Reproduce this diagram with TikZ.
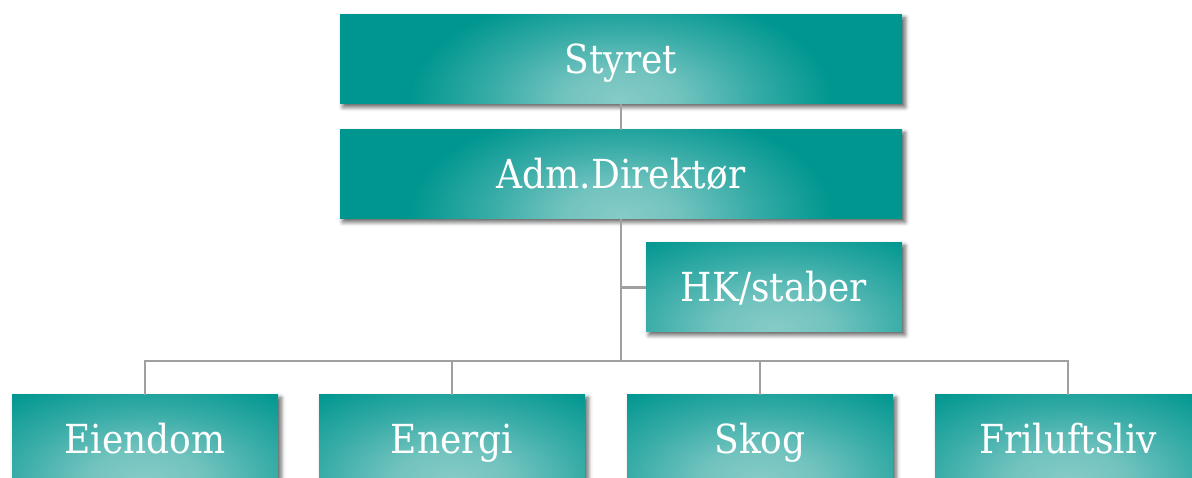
\documentclass[tikz,border=0pt]{standalone}
\usepackage{fontspec}
\setmainfont{DejaVu Serif Condensed}
\usetikzlibrary{shadows.blur}
\definecolor{tealdark}{RGB}{0,150,144}
\definecolor{teallight}{RGB}{134,203,199}
\definecolor{linegray}{RGB}{160,160,160}
\pgfdeclareradialshading{glow}{\pgfpointorigin}{color(0bp)=(teallight); color(3bp)=(teallight!85!tealdark); color(7bp)=(teallight!40!tealdark); color(11bp)=(tealdark); color(50bp)=(tealdark)}

\begin{document}
\begin{tikzpicture}[x=1pt,y=1pt,
    unit/.style={minimum height=89pt, inner sep=0pt, text=white,
      font=\fontsize{40}{40}\selectfont, text height=29pt, text depth=0pt,
      fill=tealdark,
      blur shadow={shadow xshift=3pt, shadow yshift=-3pt, shadow blur radius=4.5pt, shadow opacity=65},
      path picture={\shade[shading=glow]
        ([yshift=4pt]path picture bounding box.south) ellipse (480pt and 250pt);}},
    wide/.style={unit, minimum width=562pt},
    narrow/.style={unit, minimum width=266pt},
    link/.style={draw=linegray, line width=2.5pt}]

    \useasboundingbox (0,0) rectangle (1192,478);
    \clip (0,0) rectangle (1192,478);

    \coordinate (C1) at (621,418.5);
    \coordinate (C2) at (621,303.5);
    \coordinate (C3) at (774,190.5);
    \coordinate (C4) at (145,38.5);
    \coordinate (C5) at (452,38.5);
    \coordinate (C6) at (760,38.5);
    \coordinate (C7) at (1068,38.5);
    \coordinate (bus) at (621,117);

    % boxes
    \node [wide] (styret) at (C1) {Styret};
    \node [wide] (direktor) at (C2) {Adm.Direktør};
    \node [unit, minimum width=256pt] (staber) at (C3) {HK/staber};
    \node [narrow] (eiendom) at (C4) {Eiendom};
    \node [narrow] (energi) at (C5) {Energi};
    \node [narrow] (skog) at (C6) {Skog};
    \node [narrow] (friluftsliv) at (C7) {Friluftsliv};

    % lines
    \draw [link] (styret) -- (direktor);
    \draw [link] (direktor) -- (bus);
    \draw [link] (staber.west) -- (staber.west -| bus);
    \draw [link] (eiendom.north) |- (bus) -| (friluftsliv.north);
    \foreach \n in {energi,skog}
        \draw [link] (\n.north) -- (\n.north |- bus);
\end{tikzpicture}
\end{document}
